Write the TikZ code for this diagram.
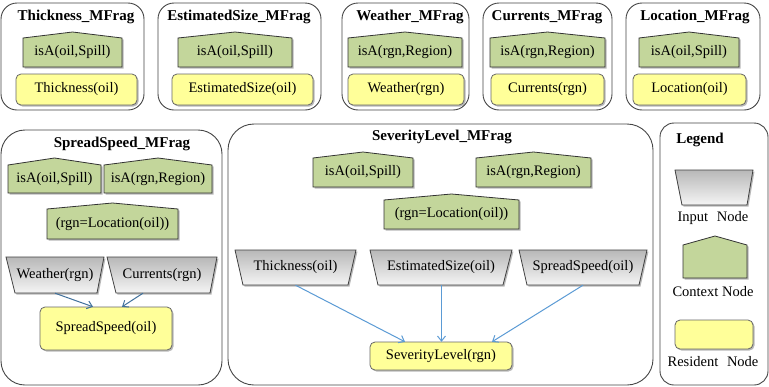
\documentclass[tikz,border=0pt]{standalone}
\usepackage{fontspec}
\setmainfont{Liberation Serif}
\usetikzlibrary{arrows.meta}

\definecolor{ctxgreen}{RGB}{195,214,155}
\definecolor{resyellow}{RGB}{255,255,153}
\definecolor{framegray}{RGB}{70,70,70}
\definecolor{linkblue}{RGB}{91,155,213}
\definecolor{linkdark}{RGB}{65,113,156}

\tikzset{
  mfragbox/.style={draw=framegray, line width=0.9pt, rounded corners=#1},
  nodeshadow/.style={fill=black, opacity=0.28},
  ctxshape/.style={fill=ctxgreen, draw=black!80, line width=0.8pt},
  resshape/.style={fill=resyellow, draw=black!60, line width=0.8pt, rounded corners=5pt},
  inpshape/.style={top color=black!28, bottom color=black!4, draw=black!75, line width=0.8pt},
  lbl/.style={font=\fontsize{14.5}{16}\selectfont, inner sep=0pt},
  ttl/.style={font=\fontsize{15}{17}\selectfont\bfseries, inner sep=0pt},
  link/.style={draw=linkblue, line width=1pt, -{Straight Barb[length=5pt,width=8pt]}},
}

% context node: name, left x, right x, apex y, shoulder y, bottom y, text
\newcommand\ctxnode[7]{%
  \path[nodeshadow] (#2+1.5,#6+1.5) -- (#2+1.5,#5+1.5) -- ({(#2+#3)/2+1.5},#4+1.5) -- (#3+1.5,#5+1.5) -- (#3+1.5,#6+1.5) -- cycle;
  \path[ctxshape] (#2,#6) -- (#2,#5) -- ({(#2+#3)/2},#4) -- (#3,#5) -- (#3,#6) -- cycle;
  \node[lbl, minimum width=#3pt-#2pt, minimum height=#6pt-#5pt] (#1) at ({(#2+#3)/2},{(#5+#6)/2}) {#7};
}
% input node: name, top-left x, top-right x, bottom-left x, bottom-right x, top y, bottom y, text
\newcommand\inpnode[8]{%
  \path[nodeshadow] (#2+1.5,#6+1.5) -- (#3+1.5,#6+1.5) -- (#5+1.5,#7+1.5) -- (#4+1.5,#7+1.5) -- cycle;
  \path[inpshape] (#2,#6) -- (#3,#6) -- (#5,#7) -- (#4,#7) -- cycle;
  \node[lbl, minimum width=#3pt-#2pt, minimum height=#7pt-#6pt] (#1) at ({(#2+#3)/2},{(#6+#7)/2}) {#8};
}
% resident node: name, left x, right x, top y, bottom y, text
\newcommand\resnode[6]{%
  \path[nodeshadow, rounded corners=5pt] (#2+1.5,#4+1.5) rectangle (#3+1.5,#5+1.5);
  \path[resshape] (#2,#4) rectangle (#3,#5);
  \node[lbl, minimum width=#3pt-#2pt, minimum height=#5pt-#4pt] (#1) at ({(#2+#3)/2},{(#4+#5)/2}) {#6};
}

\begin{document}
\begin{tikzpicture}[x=1pt, y=-1pt]
\useasboundingbox (0,0) rectangle (769,386);
\fill[white] (0,0) rectangle (769,386);

% ---- top row of MFrags ----
\draw[mfragbox=16pt] (1,3) rectangle (144,110);
\node[ttl] (t1) at (76,17) {Thickness\_MFrag};
\ctxnode{c1}{23}{122}{32}{38}{67}{isA(oil,Spill)}
\resnode{r1}{16}{137}{74}{105}{Thickness(oil)}

\draw[mfragbox=16pt] (158,3) rectangle (321,110);
\node[ttl] (t2) at (239,17) {EstimatedSize\_MFrag};
\ctxnode{c2}{178}{292}{32}{38}{67}{isA(oil,Spill)}
\resnode{r2}{172}{313}{74}{105}{EstimatedSize(oil)}

\draw[mfragbox=16pt] (342,3) rectangle (469,110);
\node[ttl] (t3) at (410,17) {Weather\_MFrag};
\ctxnode{c3}{348}{462}{32}{38}{67}{isA(rgn,Region)}
\resnode{r3}{348}{464}{74}{105}{Weather(rgn)}

\draw[mfragbox=16pt] (483,3) rectangle (612,110);
\node[ttl] (t4) at (547,17) {Currents\_MFrag};
\ctxnode{c4}{490}{605}{32}{38}{67}{isA(rgn,Region)}
\resnode{r4}{491}{604}{74}{105}{Currents(rgn)}

\draw[mfragbox=16pt] (626,3) rectangle (760,110);
\node[ttl] (t5) at (695,17) {Location\_MFrag};
\ctxnode{c5}{639}{739}{32}{38}{67}{isA(oil,Spill)}
\resnode{r5}{633}{746}{74}{105}{Location(oil)}

% ---- SpreadSpeed MFrag ----
\draw[mfragbox=24pt] (1,130) rectangle (222,385);
\node[ttl] (t6) at (122,144) {SpreadSpeed\_MFrag};
\ctxnode{c6a}{8}{101}{158}{165}{193}{isA(oil,Spill)}
\ctxnode{c6b}{104}{212}{158}{165}{193}{isA(rgn,Region)}
\ctxnode{c6c}{47}{178}{203}{209}{239}{(rgn=Location(oil))}
\inpnode{i6a}{6}{104}{15}{97}{257}{293}{Weather(rgn)}
\inpnode{i6b}{107}{217}{116}{210}{257}{293}{Currents(rgn)}
\resnode{r6}{40}{172}{307}{350}{SpreadSpeed(oil)}
\draw[link, draw=linkdark] (i6a.south) -- ([xshift=-13pt]r6.north);
\draw[link, draw=linkdark] ([xshift=-19pt]i6b.south) -- ([xshift=16pt]r6.north);

% ---- SeverityLevel MFrag ----
\draw[mfragbox=26pt] (228,124) rectangle (653,385);
\node[ttl] (t7) at (442,137) {SeverityLevel\_MFrag};
\ctxnode{c7a}{313}{413}{152}{158}{187}{isA(oil,Spill)}
\ctxnode{c7b}{476}{591}{152}{158}{187}{isA(rgn,Region)}
\ctxnode{c7c}{384}{519}{194}{200}{229}{(rgn=Location(oil))}
\inpnode{i7a}{235}{356}{243}{348}{250}{285}{Thickness(oil)}
\inpnode{i7b}{370}{512}{378}{503}{250}{285}{EstimatedSize(oil)}
\inpnode{i7c}{519}{647}{527}{639}{250}{285}{SpreadSpeed(oil)}
\resnode{r7}{370}{512}{342}{370}{SeverityLevel(rgn)}
\draw[link] (i7a.south) -- ([xshift=-36pt]r7.north);
\draw[link] ([xshift=0.5pt]i7b.south) -- ([xshift=0.5pt]r7.north);
\draw[link] (i7c.south) -- ([xshift=51pt]r7.north);

% ---- Legend ----
\draw[mfragbox=14pt] (660,123) rectangle (768,385);
\node[ttl] (lg) at (700,140) {Legend};
\inpnode{li}{675}{753}{682}{747}{170}{205}{}
\node[lbl] (lit) at (713,218) {Input\hspace{0.6em}Node};
\ctxnode{lc}{683}{747}{236}{245}{278}{}
\node[lbl] (lct) at (713,292) {Context Node};
\resnode{lr}{675}{753}{320}{349}{}
\node[lbl] (lrt) at (713,362) {Resident\hspace{0.6em}Node};
\end{tikzpicture}
\end{document}
